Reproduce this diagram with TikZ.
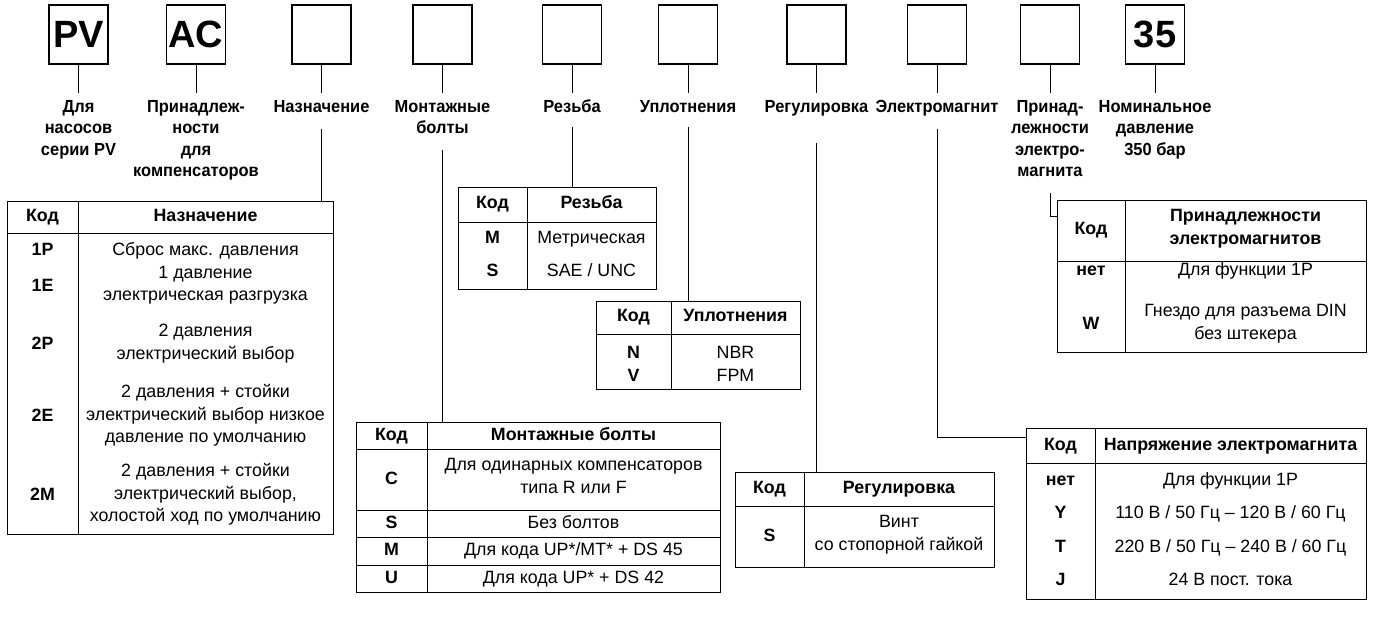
\documentclass[tikz,border=0pt]{standalone}
\usepackage{fontspec}
\setmainfont{Liberation Sans}
\newfontfamily\narrowsans[FakeStretch=0.94]{Liberation Sans}
\usetikzlibrary{positioning}
\tikzset{
  codebox/.style={draw,line width=1.1pt,minimum width=59pt,minimum height=59pt,inner sep=0pt,
    font=\fontsize{38}{40}\selectfont\bfseries},
  lbl/.style={align=center,inner sep=2pt,font=\narrowsans\fontsize{17.5}{21.5}\selectfont\bfseries,
    execute at begin node=\strut},
  tbl/.style={draw,line width=1.1pt,anchor=north west,inner sep=0pt},
  cell/.style={align=center,inner sep=0pt,font=\fontsize{17.8}{22.5}\selectfont,
    execute at begin node=\strut,execute at end node=\strut},
  hcell/.style={cell,font=\fontsize{17.8}{22.5}\selectfont\bfseries},
  wire/.style={line width=0.9pt}
}
\begin{document}
\begin{tikzpicture}[x=1pt,y=-1pt,line cap=butt,line join=miter]
  \useasboundingbox (0,0) rectangle (1373,617);
  % code boxes and their captions
  \foreach \x/\t [count=\i] in {78.5/PV,196/AC,321.5/,442.5/,572/,688/,816.5/,937/,1050/,1155/35}
    \node[codebox] (b\i) at (\x,34.5) {\t};
  \node[lbl,anchor=north] (l1) at (78.5,98) {Для\\насосов\\серии PV};
  \node[lbl,anchor=north] (l2) at (196,98) {Принадлеж-\\ности\\для\\компенсаторов};
  \node[lbl,anchor=north] (l3) at (321.5,95) {Назначение};
  \node[lbl,anchor=north] (l4) at (442.5,98) {Монтажные\\болты};
  \node[lbl,anchor=north] (l5) at (572,95) {Резьба};
  \node[lbl,anchor=north] (l6) at (688,95) {Уплотнения};
  \node[lbl,anchor=north] (l7) at (816.5,95) {Регулировка};
  \node[lbl,anchor=north] (l8) at (937,95) {Электромагнит};
  \node[lbl,anchor=north] (l9) at (1050,98) {Принад-\\лежности\\электро-\\магнита};
  \node[lbl,anchor=north] (l10) at (1155,98) {Номинальное\\давление\\350 бар};
  \foreach \i in {1,...,10}
    \draw[wire] (b\i.south) -- ++(0,-28pt) coordinate (c\i);

  % tables
  \node[tbl,minimum width=326pt,minimum height=333pt] (t1) at (7,201) {};
  \node[tbl,minimum width=198pt,minimum height=102pt] (t2) at (458,187) {};
  \node[tbl,minimum width=204pt,minimum height=88pt] (t3) at (596,301) {};
  \node[tbl,minimum width=364pt,minimum height=170pt] (t4) at (356,422) {};
  \node[tbl,minimum width=259pt,minimum height=95pt] (t5) at (735,472) {};
  \node[tbl,minimum width=309pt,minimum height=152pt] (t6) at (1057,200) {};
  \node[tbl,minimum width=340pt,minimum height=171pt] (t7) at (1026,428) {};
  \foreach \t/\cx/\hy in {t1/78/233,t2/527/222,t3/671/334,t4/427/449,t5/804/506,t6/1125/261,t7/1095/463}{
    \draw[wire] (\t.west |- 0,\hy) -- (\t.east |- 0,\hy);
    \draw[wire] (\t.north -| \cx,0) -- (\t.south -| \cx,0);
  }
  \foreach \hy in {510,537,565}
    \draw[wire] (t4.west |- 0,\hy) -- (t4.east |- 0,\hy);

  % connectors from captions to tables
  \draw[wire,shorten <=8pt] (l3.south) -- (l3.south |- t1.north);
  \draw[wire,shorten <=8pt] (l4.south) -- (l4.south |- t4.north);
  \draw[wire,shorten <=6pt] (l5.south) -- (l5.south |- t2.north);
  \draw[wire,shorten <=6pt] (l6.south) -- (l6.south |- t3.north);
  \draw[wire,shorten <=22pt] (l7.south) -- (l7.south |- t5.north);
  \draw[wire,shorten <=8pt] (l8.south) |- ([yshift=-9pt]t7.north west);
  \draw[wire,shorten <=8pt] (l9.south) |- ([yshift=-16pt]t6.north west);

  % Назначение
  \node[hcell] (h1a) at (42.5,217) {Код};
  \node[hcell] (h1b) at (205.5,217) {Назначение};
  \foreach \y/\k/\d [count=\i] in {251/1P/{Сброс макс. давления},
      287/1E/{1 давление\\электрическая разгрузка},
      345/2P/{2 давления\\электрический выбор},
      417/2E/{2 давления + стойки\\электрический выбор низкое\\давление по умолчанию},
      496/2M/{2 давления + стойки\\электрический выбор,\\холостой ход по умолчанию}}{
    \node[hcell] (k1\i) at (42.5,\y) {\k};
    \node[cell] (d1\i) at (205.5,\y) {\d};
  }

  % Резьба
  \node[hcell] (h2a) at (492.5,204.5) {Код};
  \node[hcell] (h2b) at (591.5,204.5) {Резьба};
  \foreach \y/\k/\d [count=\i] in {239/M/{Метрическая},272/S/{SAE / UNC}}{
    \node[hcell] (k2\i) at (492.5,\y) {\k};
    \node[cell] (d2\i) at (591.5,\y) {\d};
  }

  % Уплотнения
  \node[hcell] (h3a) at (633.5,317.5) {Код};
  \node[hcell] (h3b) at (735.5,317.5) {Уплотнения};
  \foreach \y/\k/\d [count=\i] in {354/N/{NBR},377/V/{FPM}}{
    \node[hcell] (k3\i) at (633.5,\y) {\k};
    \node[cell] (d3\i) at (735.5,\y) {\d};
  }

  % Монтажные болты
  \node[hcell] (h4a) at (391.5,435.5) {Код};
  \node[hcell] (h4b) at (573.5,435.5) {Монтажные болты};
  \foreach \y/\k/\d [count=\i] in {479.5/C/{Для одинарных компенсаторов\\типа R или F},
      523.5/S/{Без болтов},551/M/{Для кода UP*/MT* + DS 45},578.5/U/{Для кода UP* + DS 42}}{
    \node[hcell] (k4\i) at (391.5,\y) {\k};
    \node[cell] (d4\i) at (573.5,\y) {\d};
  }

  % Регулировка
  \node[hcell] (h5a) at (769.5,489) {Код};
  \node[hcell] (h5b) at (899,489) {Регулировка};
  \node[hcell] (k51) at (769.5,536.5) {S};
  \node[cell] (d51) at (899,536.5) {Винт\\со стопорной гайкой};

  % Принадлежности электромагнитов
  \node[hcell] (h6a) at (1091,230.5) {Код};
  \node[hcell] (h6b) at (1245.5,230.5) {Принадлежности\\электромагнитов};
  \foreach \y/\k/\d [count=\i] in {271/нет/{Для функции 1P},325/W/{Гнездо для разъема DIN\\без штекера}}{
    \node[hcell] (k6\i) at (1091,\y) {\k};
    \node[cell] (d6\i) at (1245.5,\y) {\d};
  }

  % Напряжение электромагнита
  \node[hcell] (h7a) at (1060.5,445.5) {Код};
  \node[hcell] (h7b) at (1230.5,445.5) {Напряжение электромагнита};
  \foreach \y/\k/\d [count=\i] in {481/нет/{Для функции 1P},514/Y/{110 В / 50 Гц – 120 В / 60 Гц},
      547.5/T/{220 В / 50 Гц – 240 В / 60 Гц},581/J/{24 В пост. тока}}{
    \node[hcell] (k7\i) at (1060.5,\y) {\k};
    \node[cell] (d7\i) at (1230.5,\y) {\d};
  }
\end{tikzpicture}
\end{document}
